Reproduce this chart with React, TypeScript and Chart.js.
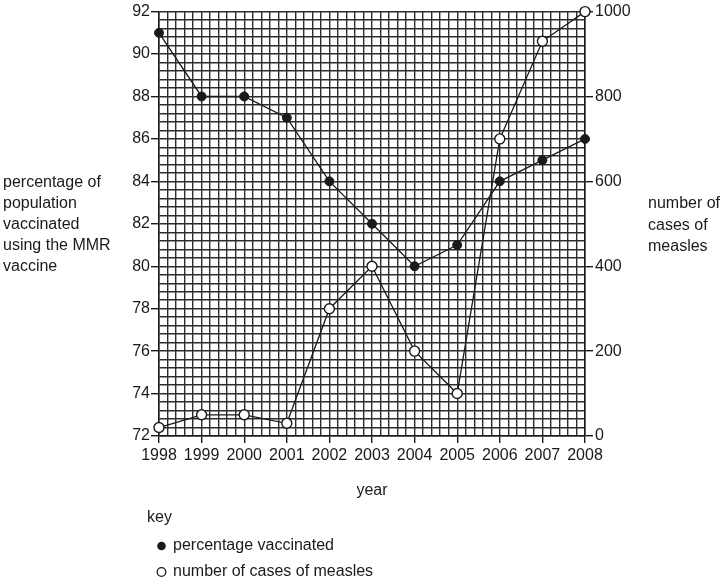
import React, { useEffect, useRef } from "react";
import { Chart, registerables } from "chart.js";

Chart.register(...registerables);

const years = [1998, 1999, 2000, 2001, 2002, 2003, 2004, 2005, 2006, 2007, 2008];
const percentVaccinated = [91, 88, 88, 87, 84, 82, 80, 81, 84, 85, 86];
const measlesCases = [20, 50, 50, 30, 300, 400, 200, 100, 700, 930, 1000];
const leftTitle = ["percentage of", "population", "vaccinated", "using the MMR", "vaccine"];
const rightTitle = ["number of", "cases of", "measles"];
const xTitle = "year";
const keyTitle = "key";
const legendLabels = ["percentage vaccinated", "number of cases of measles"];

const FONT = '"Liberation Sans", Arial, sans-serif';
const INK = "#1a1a1a";
const GRID = "#2e2e2e";

export default function App() {
  const ref = useRef<HTMLCanvasElement | null>(null);

  useEffect(() => {
    if (!ref.current) return;
    const textPlugin = {
      id: "texts",
      afterDraw(chart: any) {
        const ctx = chart.ctx;
        ctx.save();
        ctx.fillStyle = INK;
        ctx.font = `16px ${FONT}`;
        ctx.textBaseline = "middle";
        ctx.textAlign = "left";
        leftTitle.forEach((t, i) => ctx.fillText(t, 3, 183 + i * 20.8));
        rightTitle.forEach((t, i) => ctx.fillText(t, 648, 204 + i * 21.2));
        ctx.textAlign = "center";
        ctx.fillText(xTitle, 372, 491);
        ctx.textAlign = "left";
        ctx.fillText(keyTitle, 147, 518);
        ctx.fillText(legendLabels[0], 173, 546);
        ctx.fillText(legendLabels[1], 173, 572);
        ctx.beginPath();
        ctx.arc(161.5, 546, 4.3, 0, Math.PI * 2);
        ctx.fillStyle = INK;
        ctx.fill();
        ctx.beginPath();
        ctx.arc(161.5, 572, 4.3, 0, Math.PI * 2);
        ctx.fillStyle = "#fff";
        ctx.fill();
        ctx.lineWidth = 1.3;
        ctx.strokeStyle = INK;
        ctx.stroke();
        ctx.restore();
      },
    };

    const chart = new Chart(ref.current, {
      type: "line",
      data: {
        datasets: [
          {
            label: legendLabels[0],
            data: years.map((y, i) => ({ x: y, y: percentVaccinated[i] })),
            yAxisID: "y",
            borderColor: INK,
            borderWidth: 1.3,
            pointRadius: 4.5,
            pointBackgroundColor: INK,
            pointBorderColor: INK,
            pointBorderWidth: 1,
            tension: 0,
            clip: false,
          },
          {
            label: legendLabels[1],
            data: years.map((y, i) => ({ x: y, y: measlesCases[i] })),
            yAxisID: "y1",
            borderColor: INK,
            borderWidth: 1.3,
            pointRadius: 5,
            pointBackgroundColor: "#fff",
            pointBorderColor: INK,
            pointBorderWidth: 1.4,
            tension: 0,
            clip: false,
          },
        ],
      },
      options: {
        responsive: false,
        animation: false,
        devicePixelRatio: 1,
        layout: { padding: { top: 11, left: 0, right: 0, bottom: 0 } },
        plugins: { legend: { display: false }, tooltip: { enabled: false } },
        scales: {
          x: {
            type: "linear",
            min: 1998,
            max: 2008,
            afterFit: (s: any) => {
              s.height = 143;
            },
            ticks: {
              stepSize: 0.2,
              maxTicksLimit: 200,
              autoSkip: false,
              maxRotation: 0,
              padding: 3,
              color: INK,
              font: { family: FONT, size: 16 },
              callback: (v: any) => {
                const n = Number(v);
                return Math.abs(n - Math.round(n)) < 1e-6 ? String(Math.round(n)) : "";
              },
            },
            grid: {
              color: GRID,
              lineWidth: 1.4,
              tickLength: 7,
              tickColor: (c: any) => {
                const n = c.tick ? c.tick.value : 0;
                return Math.abs(n - Math.round(n)) < 1e-6 ? INK : "rgba(0,0,0,0)";
              },
            },
            border: { color: INK, width: 1.5 },
          },
          y: {
            type: "linear",
            position: "left",
            min: 72,
            max: 92,
            afterFit: (s: any) => {
              s.width = 159;
            },
            ticks: {
              stepSize: 0.4,
              maxTicksLimit: 200,
              autoSkip: false,
              padding: 1,
              color: INK,
              font: { family: FONT, size: 16 },
              callback: (v: any) => {
                const n = Number(v) / 2;
                return Math.abs(n - Math.round(n)) < 1e-6 ? String(Math.round(Number(v))) : "";
              },
            },
            grid: {
              color: GRID,
              lineWidth: 1.4,
              tickLength: 8,
              tickColor: (c: any) => {
                const n = c.tick ? c.tick.value / 2 : 0;
                return Math.abs(n - Math.round(n)) < 1e-6 ? INK : "rgba(0,0,0,0)";
              },
            },
            border: { color: INK, width: 1.5 },
          },
          y1: {
            type: "linear",
            position: "right",
            min: 0,
            max: 1000,
            afterFit: (s: any) => {
              s.width = 137;
            },
            ticks: {
              stepSize: 200,
              padding: 2,
              color: INK,
              font: { family: FONT, size: 16 },
              callback: (v: any) => String(Math.round(Number(v))),
            },
            grid: {
              drawOnChartArea: false,
              tickLength: 8,
              tickColor: INK,
              lineWidth: 1.4,
            },
            border: { color: INK, width: 1.5 },
          },
        },
      },
      plugins: [textPlugin],
    } as any);
    return () => chart.destroy();
  }, []);

  return (
    <div style={{ position: "absolute", left: 0, top: 0, width: 722, height: 579, background: "#fff" }}>
      <canvas ref={ref} width={722} height={579} style={{ width: 722, height: 579, display: "block" }} />
    </div>
  );
}
